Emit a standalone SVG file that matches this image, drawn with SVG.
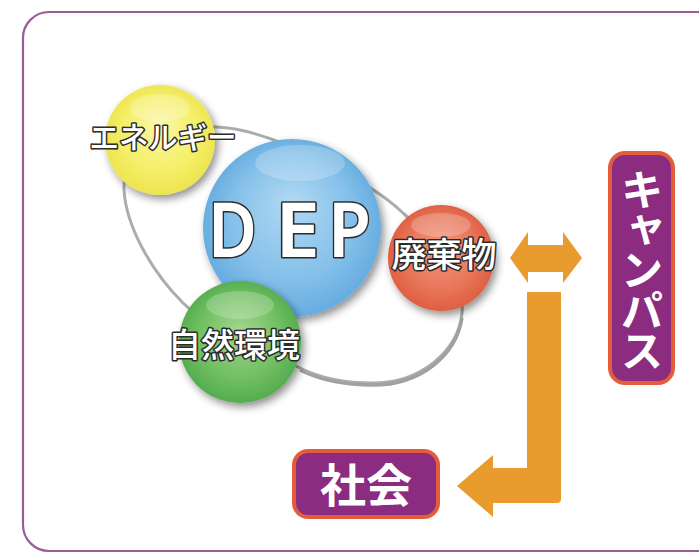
<svg xmlns="http://www.w3.org/2000/svg" width="699" height="553" viewBox="0 0 699 553">
<defs>
<style>
.lbl{font-family:"Noto Sans CJK JP","Noto Sans",sans-serif;font-weight:500;fill:#fff;stroke:#2b2b2b;stroke-width:3;paint-order:stroke;stroke-linejoin:round;text-anchor:middle}
.dep{font-family:"Noto Sans","DejaVu Sans",sans-serif;font-weight:600;font-size:76px;fill:#fff;stroke:#2b2b2b;stroke-width:3;paint-order:stroke;stroke-linejoin:round}
.box{fill:#8b2c80;stroke:#e35d3b;stroke-width:4}
.boxtxt{font-family:"Noto Sans CJK JP",sans-serif;font-weight:700;fill:#fff}
.arrow{fill:#e99b2d}
.hl{fill:#fff;opacity:0.22}
</style>
<filter id="sh" x="-30%" y="-30%" width="160%" height="160%">
<feGaussianBlur in="SourceAlpha" stdDeviation="4"/>
<feOffset dx="3" dy="4" result="b"/>
<feComponentTransfer><feFuncA type="linear" slope="0.45"/></feComponentTransfer>
<feMerge><feMergeNode/><feMergeNode in="SourceGraphic"/></feMerge>
</filter>
<radialGradient id="gY" cx="50%" cy="50%" r="55%" fx="50%" fy="35%">
<stop offset="0" stop-color="#faf7a8"/><stop offset="0.6" stop-color="#f5ef6a"/><stop offset="1" stop-color="#ece24a"/>
</radialGradient>
<radialGradient id="gB" cx="50%" cy="50%" r="55%" fx="50%" fy="35%">
<stop offset="0" stop-color="#b2d9f2"/><stop offset="0.6" stop-color="#86c1ea"/><stop offset="1" stop-color="#5fa8dd"/>
</radialGradient>
<radialGradient id="gO" cx="50%" cy="50%" r="55%" fx="50%" fy="40%">
<stop offset="0" stop-color="#f29a80"/><stop offset="0.6" stop-color="#e9765a"/><stop offset="1" stop-color="#dc5a3c"/>
</radialGradient>
<radialGradient id="gG" cx="50%" cy="50%" r="55%" fx="50%" fy="40%">
<stop offset="0" stop-color="#a4d68f"/><stop offset="0.6" stop-color="#72c063"/><stop offset="1" stop-color="#4ea84a"/>
</radialGradient>
</defs>
<rect width="699" height="553" fill="#ffffff"/>
<rect x="23" y="12" width="700" height="539" rx="26" fill="none" stroke="#9c5a98" stroke-width="2.2"/>

<g id="ring">
<path d="M124,190 C122,150 170,125 217,127 C270,129 370,180 403,213 C440,245 465,285 462,313 C458,352 420,383 373,383 C345,383 320,378 300,368 C260,350 210,330 183,303 C150,270 126,225 124,190 Z" fill="none" stroke="#a9adac" stroke-width="3"/>
<path d="M462,318 C456,356 420,385 373,385 C345,385 320,380 300,370" fill="none" stroke="#9ea3a2" stroke-width="3.5"/>
</g>

<g id="node-energy">
<circle cx="160" cy="140" r="55" fill="url(#gY)" filter="url(#sh)"/>
<ellipse cx="160" cy="108" rx="30" ry="14" class="hl"/>
<text x="163" y="148" class="lbl" font-size="30" textLength="147" lengthAdjust="spacingAndGlyphs">エネルギー</text>
</g>

<g id="node-dep">
<circle cx="292" cy="228" r="89" fill="url(#gB)" filter="url(#sh)"/>
<ellipse cx="300" cy="163" rx="45" ry="18" class="hl"/>
<text x="208" y="257" class="dep" textLength="49" lengthAdjust="spacingAndGlyphs">D</text>
<text x="275" y="257" class="dep" textLength="45" lengthAdjust="spacingAndGlyphs">E</text>
<text x="328" y="257" class="dep" textLength="43" lengthAdjust="spacingAndGlyphs">P</text>
</g>

<g id="node-waste">
<circle cx="441" cy="258" r="53" fill="url(#gO)" filter="url(#sh)"/>
<ellipse cx="441" cy="225" rx="30" ry="12" class="hl"/>
<text x="444" y="267" class="lbl" font-size="34" textLength="105" lengthAdjust="spacingAndGlyphs">廃棄物</text>
</g>

<g id="node-nature">
<circle cx="240" cy="342" r="61" fill="url(#gG)" filter="url(#sh)"/>
<ellipse cx="240" cy="305" rx="34" ry="14" class="hl"/>
<text x="234" y="357" class="lbl" font-size="33" textLength="132" lengthAdjust="spacingAndGlyphs">自然環境</text>
</g>

<g id="node-campus">
<rect x="610" y="153" width="63" height="230" rx="15" class="box"/>
<text x="642" y="168" class="boxtxt" font-size="43" style="writing-mode:vertical-rl" textLength="204" lengthAdjust="spacing">キャンパス</text>
</g>

<g id="node-society">
<rect x="294" y="451" width="144" height="66" rx="14" class="box"/>
<text x="366" y="502" class="boxtxt" font-size="46" text-anchor="middle">社会</text>
</g>

<g id="connectors">
<polygon class="arrow" points="510,258 528,232 528,245 563,245 563,232 582,258 563,283 563,272 528,272 528,283"/>
<path class="arrow" d="M527,292 L561,292 L561,499 Q561,503 557,503 L493,503 L493,517 L457,486 L493,455 L493,468 L527,468 Z"/>
</g>
</svg>
